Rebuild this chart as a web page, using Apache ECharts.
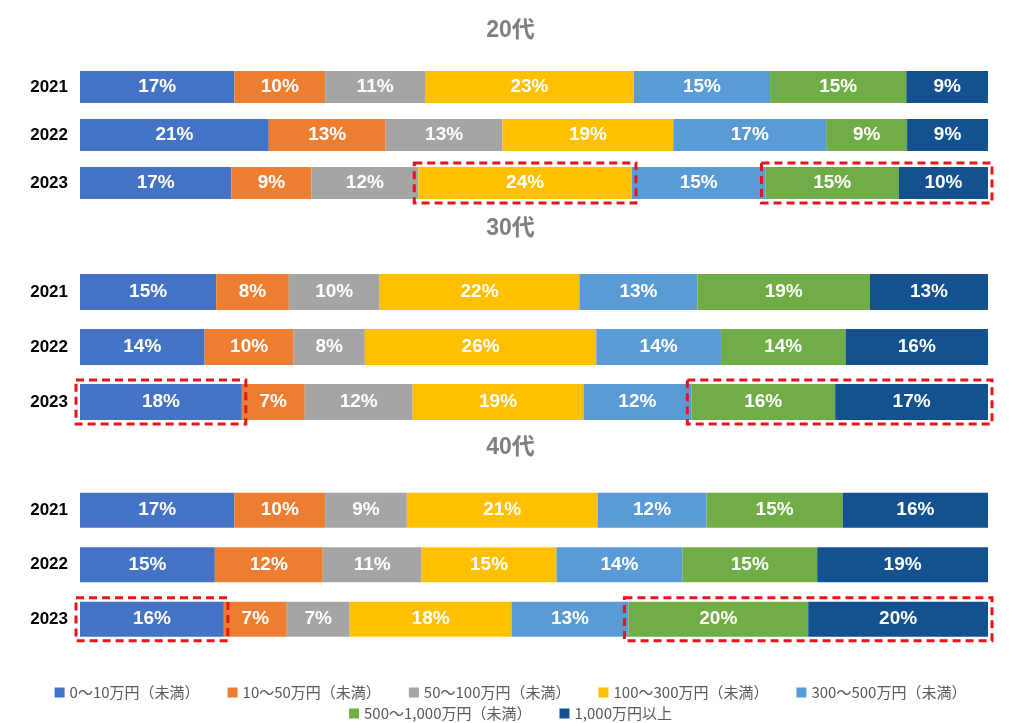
<!DOCTYPE html>
<html>
<head>
<meta charset="utf-8">
<script src="https://cdn.jsdelivr.net/npm/echarts@6/dist/echarts.min.js"></script>
<style>
html,body{margin:0;padding:0;background:#fff;}
#con{width:1021px;height:723px;}
</style>
</head>
<body>
<div id="con"></div>
<script>
var years = ['2021', '2022', '2023'];
var bands = ['0～10万円（未満）', '10～50万円（未満）', '50～100万円（未満）', '100～300万円（未満）',
	'300～500万円（未満）', '500～1,000万円（未満）', '1,000万円以上'];
var colors = ['#4472C4', '#ED7D31', '#A5A5A5', '#FFC000', '#5B9BD5', '#70AD47', '#13518F'];
var ages = ['20代', '30代', '40代'];

// 各年の割合（%）、bandsの順
var v20 = [
	[17, 10, 11, 23, 15, 15, 9],
	[21, 13, 13, 19, 17, 9, 9],
	[17, 9, 12, 24, 15, 15, 10]
];
var v30 = [
	[15, 8, 10, 22, 13, 19, 13],
	[14, 10, 8, 26, 14, 14, 16],
	[18, 7, 12, 19, 12, 16, 17]
];
var v40 = [
	[17, 10, 9, 21, 12, 15, 16],
	[15, 12, 11, 15, 14, 15, 19],
	[16, 7, 7, 18, 13, 20, 20]
];
// 2023年の強調枠 [開始band, 終了band]
var box20 = [[3, 3], [5, 6]];
var box30 = [[0, 0], [5, 6]];
var box40 = [[0, 0], [5, 6]];

var groups = [v20, v30, v40];
var boxes = [box20, box30, box40];
var gridTop = [63, 264.5, 483];
var gridH = [144, 165, 163.5];
var barW = [32, 36, 35];
var titleTop = [14, 212, 431];

var font = '"Liberation Sans", "Noto Sans CJK JP", sans-serif';

function pct(row, k) {
	var sum = 0;
	for (var i = 0; i < row.length; i++) sum += row[i];
	return row[k] / sum * 100;
}

var myChart = echarts.init(document.getElementById('con'));

var grids = [], xAxes = [], yAxes = [], series = [], titles = [];
for (var g = 0; g < 3; g++) {
	titles.push({
		text: ages[g], left: 'center', top: titleTop[g],
		textStyle: {fontSize: 23, fontWeight: 'bold', color: '#7F7F7F', fontFamily: font}
	});
	grids.push({left: 80, right: 33, top: gridTop[g], height: gridH[g]});
	xAxes.push({
		type: 'value', gridIndex: g, min: 0, max: 100, show: false
	});
	yAxes.push({
		type: 'category', gridIndex: g, data: years, inverse: true,
		axisLine: {show: false}, axisTick: {show: false}, splitLine: {show: false},
		axisLabel: {fontSize: 17, fontWeight: 'bold', color: '#000', margin: 12, fontFamily: font}
	});
	for (var s = 0; s < bands.length; s++) {
		var data = [];
		for (var y = 0; y < years.length; y++) {
			data.push(pct(groups[g][y], s));
		}
		(function (gg, ss) {
			series.push({
				name: bands[ss], type: 'bar', stack: 'age' + gg,
				xAxisIndex: gg, yAxisIndex: gg, barWidth: barW[gg],
				itemStyle: {color: colors[ss]},
				label: {
					show: true, position: 'inside', color: '#fff', fontSize: 19, fontWeight: 'bold',
					fontFamily: font, textBorderWidth: 0,
					formatter: function (p) { return groups[gg][p.dataIndex][ss] + '%'; }
				},
				emphasis: {disabled: true},
				data: data
			});
		})(g, s);
	}
}

var legendText = {fontSize: 15, color: '#595959', fontFamily: '"Noto Sans CJK JP", sans-serif'};
option = {
	animation: false,
	color: colors,
	title: titles,
	grid: grids,
	xAxis: xAxes,
	yAxis: yAxes,
	legend: [
		{data: bands.slice(0, 5), left: 'center', top: 680, icon: 'rect', itemWidth: 10, itemHeight: 10,
			itemGap: 28, textStyle: legendText},
		{data: bands.slice(5), left: 'center', top: 701, icon: 'rect', itemWidth: 10, itemHeight: 10,
			itemGap: 28, textStyle: legendText}
	],
	series: series
};
myChart.setOption(option);

// 強調枠（赤の点線）
var rects = [];
for (var g = 0; g < 3; g++) {
	var row = groups[g][2];
	for (var b = 0; b < boxes[g].length; b++) {
		var st = 0, en = 0;
		for (var k = 0; k < boxes[g][b][1] + 1; k++) {
			if (k < boxes[g][b][0]) st += pct(row, k);
			en += pct(row, k);
		}
		var p1 = myChart.convertToPixel({gridIndex: g}, [st, 2]);
		var p2 = myChart.convertToPixel({gridIndex: g}, [en, 2]);
		var h = barW[g] / 2 + 4;
		rects.push({
			type: 'rect',
			shape: {x: p1[0] - 4, y: p1[1] - h, width: p2[0] - p1[0] + 8, height: h * 2},
			style: {fill: 'none', stroke: '#E8141B', lineWidth: 3, lineDash: [8, 5]},
			z: 100
		});
	}
}
myChart.setOption({graphic: rects});
window.onresize = myChart.resize;
</script>
</body>
</html>
